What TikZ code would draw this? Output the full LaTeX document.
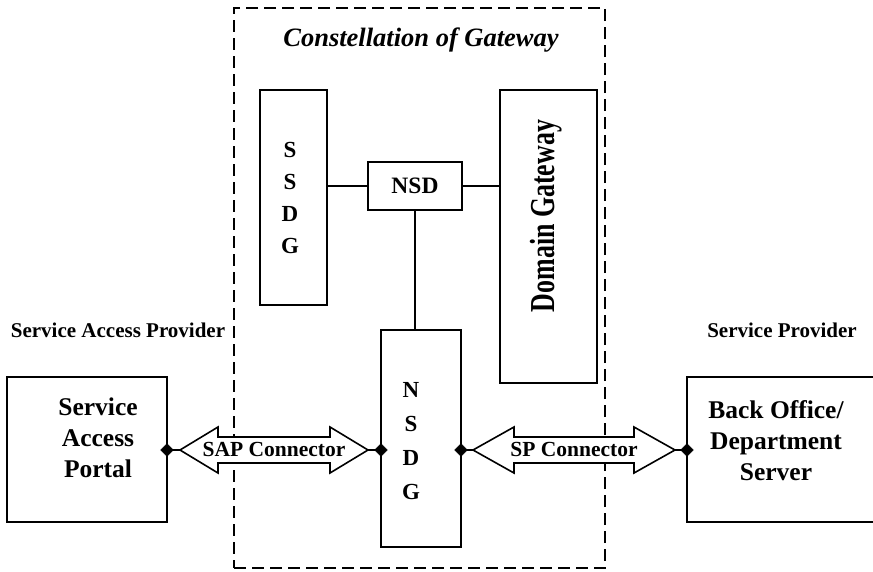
\documentclass[tikz,border=0pt]{standalone}
\usepackage{fontspec}
\setmainfont{Liberation Serif}
\usetikzlibrary{calc,shapes.geometric}
\begin{document}
\begin{tikzpicture}[x=1pt,y=-1pt,
  box/.style={draw,line width=1.7pt,inner sep=0pt,rectangle},
  ln/.style={line width=1.7pt},
  grp/.style={draw,line width=1.8pt,dash pattern=on 12pt off 6pt,inner sep=0pt,rectangle},
  dia/.style={diamond,draw,fill=black,inner sep=0pt,minimum width=13pt,minimum height=13pt},
  bigtxt/.style={font=\fontsize{25.5}{31}\selectfont\bfseries,align=center},
  lettxt/.style={font=\fontsize{23}{32}\selectfont\bfseries,align=center},
  lbltxt/.style={font=\fontsize{21}{24}\selectfont\bfseries},
  arr/.style={draw,line width=1.6pt,fill=white,line join=miter}
]
\useasboundingbox (0,0) rectangle (873,571);
% group box
\node[grp,minimum width=371pt,minimum height=560pt] (cog) at (419.5,288) {};
\node[font=\fontsize{26.5}{30}\selectfont\bfseries\itshape] (title) at (421,40) {Constellation of Gateway};
% inner boxes
\node[box,minimum width=67pt,minimum height=215pt] (ssdg) at (293.5,197.5) {};
\node[lettxt] (ssdgt) at (290,198) {S\\S\\D\\G};
\node[box,minimum width=97pt,minimum height=293pt] (dg) at (548.5,236.5) {};
\node[rotate=90,font=\fontsize{35}{35}\selectfont\bfseries] (dgt) at (546,216) {\scalebox{0.74}[1]{Domain Gateway}};
\node[box,minimum width=94pt,minimum height=48pt,font=\fontsize{23.5}{26}\selectfont\bfseries] (nsd) at (415,186) {NSD};
\node[box,minimum width=80pt,minimum height=217pt] (nsdg) at (421,438.5) {};
\node[lettxt,font=\fontsize{23}{34}\selectfont\bfseries] (nsdgt) at (411,441.5) {N\\S\\D\\G};
% outside boxes
\node[box,minimum width=160pt,minimum height=145pt] (sap) at (87,449.5) {};
\node[bigtxt] (sapt) at (98,438) {Service\\Access\\Portal};
\node[box,minimum width=187pt,minimum height=145pt] (bo) at (780.5,449.5) {};
\node[bigtxt] (bot) at (776,441) {Back Office/\\Department\\Server};
% labels
\node[lbltxt] (sapl) at (118,330) {Service Access Provider};
\node[lbltxt] (spl) at (782,330) {Service Provider};
% connections
\draw[ln] (ssdg.east |- nsd.west) -- (nsd.west);
\draw[ln] (nsd.east) -- (dg.west |- nsd.east);
\draw[ln] (nsd.south) -- (nsd.south |- nsdg.north);
% diamonds
\coordinate (d1) at (167,450);
\coordinate (d2) at (381,450);
\coordinate (d3) at (461,450);
\coordinate (d4) at (687,450);
% SAP double arrow
\draw[ln] (d1) -- ++(13,0) coordinate (t1);
\draw[ln] (d2) -- ++(-13,0) coordinate (t2);
\draw[arr] (t1) -- ($(t1)+(38,-23)$) -- ($(t1)+(38,-13)$) -- ($(t2)+(-38,-13)$) -- ($(t2)+(-38,-23)$) -- (t2)
  -- ($(t2)+(-38,23)$) -- ($(t2)+(-38,13)$) -- ($(t1)+(38,13)$) -- ($(t1)+(38,23)$) -- cycle;
\node[font=\fontsize{21.5}{24}\selectfont\bfseries] (sapc) at ($(t1)!0.5!(t2)+(0,-1)$) {SAP Connector};
% SP double arrow
\draw[ln] (d3) -- ++(12,0) coordinate (t3);
\draw[ln] (d4) -- ++(-12,0) coordinate (t4);
\draw[arr] (t3) -- ($(t3)+(41,-23)$) -- ($(t3)+(41,-13)$) -- ($(t4)+(-41,-13)$) -- ($(t4)+(-41,-23)$) -- (t4)
  -- ($(t4)+(-41,23)$) -- ($(t4)+(-41,13)$) -- ($(t3)+(41,13)$) -- ($(t3)+(41,23)$) -- cycle;
\node[font=\fontsize{21.5}{24}\selectfont\bfseries] (spc) at ($(t3)!0.5!(t4)+(0,-1)$) {SP Connector};
\node[dia] (m1) at (d1) {};
\node[dia] (m2) at (d2) {};
\node[dia] (m3) at (d3) {};
\node[dia] (m4) at (d4) {};
\end{tikzpicture}
\end{document}
